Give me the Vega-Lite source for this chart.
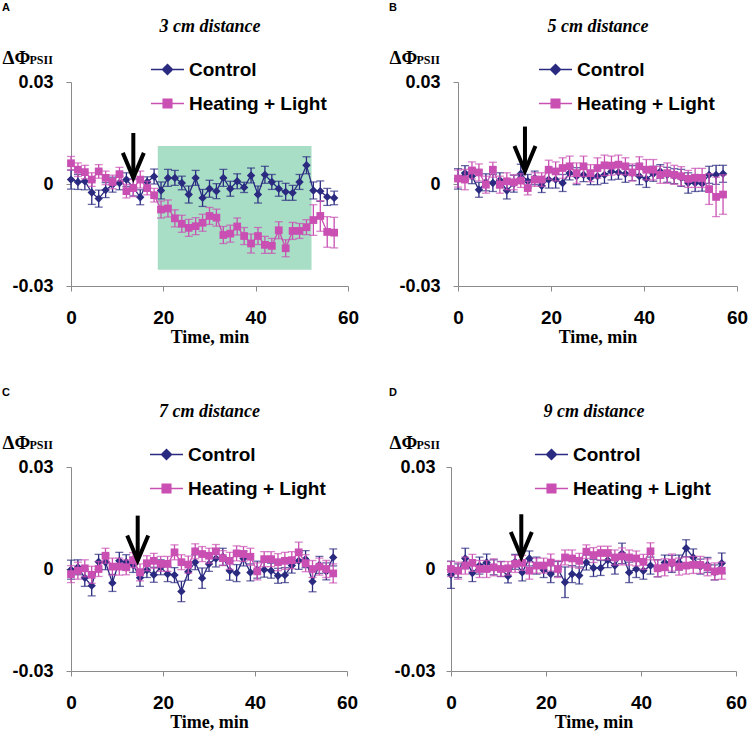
{
"$schema": "https://vega.github.io/schema/vega-lite/v6.json",
"padding": {"left": 2, "top": 2, "right": 0, "bottom": 0},
"background": "#ffffff",
"datasets": {
"A": [
{"s":"Control","t":0,"v":0.0013,"e":0.0028},{"s":"Control","t":1.5,"v":0.0006,"e":0.0022},{"s":"Control","t":3,"v":0.0008,"e":0.0025},{"s":"Control","t":4.5,"v":-0.0025,"e":0.0035},{"s":"Control","t":6,"v":-0.0043,"e":0.0025},{"s":"Control","t":7.5,"v":-0.0018,"e":0.0022},{"s":"Control","t":9,"v":-0.0002,"e":0.0022},{"s":"Control","t":10.5,"v":0.0003,"e":0.002},{"s":"Control","t":12,"v":0.0013,"e":0.002},{"s":"Control","t":13.5,"v":-0.001,"e":0.0025},{"s":"Control","t":15,"v":-0.0039,"e":0.0022},{"s":"Control","t":16.5,"v":0.0006,"e":0.0015},{"s":"Control","t":18,"v":0.0022,"e":0.0022},{"s":"Control","t":19.5,"v":-0.0019,"e":0.0025},{"s":"Control","t":21,"v":0.0018,"e":0.0025},{"s":"Control","t":22.5,"v":0.0018,"e":0.0022},{"s":"Control","t":24,"v":0.0003,"e":0.002},{"s":"Control","t":25.5,"v":-0.0031,"e":0.0025},{"s":"Control","t":27,"v":0.0018,"e":0.0022},{"s":"Control","t":28.5,"v":-0.0041,"e":0.0025},{"s":"Control","t":30,"v":-0.0014,"e":0.0025},{"s":"Control","t":31.5,"v":-0.0021,"e":0.0022},{"s":"Control","t":33,"v":0.0018,"e":0.0025},{"s":"Control","t":34.5,"v":-0.0014,"e":0.0022},{"s":"Control","t":36,"v":0.0008,"e":0.0022},{"s":"Control","t":37.5,"v":-0.001,"e":0.0015},{"s":"Control","t":39,"v":0.0025,"e":0.0022},{"s":"Control","t":40.5,"v":-0.0031,"e":0.0025},{"s":"Control","t":42,"v":0.0027,"e":0.0025},{"s":"Control","t":43.5,"v":0.0006,"e":0.0022},{"s":"Control","t":45,"v":-0.0014,"e":0.0022},{"s":"Control","t":46.5,"v":-0.0023,"e":0.0025},{"s":"Control","t":48,"v":-0.0026,"e":0.0022},{"s":"Control","t":49.5,"v":0.0006,"e":0.0022},{"s":"Control","t":51,"v":0.0055,"e":0.0025},{"s":"Control","t":52.5,"v":-0.0019,"e":0.0025},{"s":"Control","t":54,"v":-0.0021,"e":0.003},{"s":"Control","t":55.5,"v":-0.0038,"e":0.0025},{"s":"Control","t":57,"v":-0.0041,"e":0.002},
{"s":"Heating + Light","t":0,"v":0.0061,"e":0.002},{"s":"Heating + Light","t":1.5,"v":0.0042,"e":0.002},{"s":"Heating + Light","t":3,"v":0.0035,"e":0.002},{"s":"Heating + Light","t":4.5,"v":0.0013,"e":0.002},{"s":"Heating + Light","t":6,"v":0.0037,"e":0.002},{"s":"Heating + Light","t":7.5,"v":0.0018,"e":0.002},{"s":"Heating + Light","t":9,"v":0.0006,"e":0.002},{"s":"Heating + Light","t":10.5,"v":0.0029,"e":0.002},{"s":"Heating + Light","t":12,"v":-0.0021,"e":0.002},{"s":"Heating + Light","t":13.5,"v":-0.0012,"e":0.0025},{"s":"Heating + Light","t":15,"v":0.0013,"e":0.0025},{"s":"Heating + Light","t":16.5,"v":-0.0012,"e":0.002},{"s":"Heating + Light","t":18,"v":-0.0033,"e":0.002},{"s":"Heating + Light","t":19.5,"v":-0.0075,"e":0.0025},{"s":"Heating + Light","t":21,"v":-0.0072,"e":0.0025},{"s":"Heating + Light","t":22.5,"v":-0.0101,"e":0.0025},{"s":"Heating + Light","t":24,"v":-0.0117,"e":0.0025},{"s":"Heating + Light","t":25.5,"v":-0.0129,"e":0.0025},{"s":"Heating + Light","t":27,"v":-0.0124,"e":0.0025},{"s":"Heating + Light","t":28.5,"v":-0.0114,"e":0.0025},{"s":"Heating + Light","t":30,"v":-0.0094,"e":0.0025},{"s":"Heating + Light","t":31.5,"v":-0.0099,"e":0.0025},{"s":"Heating + Light","t":33,"v":-0.015,"e":0.0025},{"s":"Heating + Light","t":34.5,"v":-0.0146,"e":0.0025},{"s":"Heating + Light","t":36,"v":-0.0125,"e":0.0025},{"s":"Heating + Light","t":37.5,"v":-0.0153,"e":0.0025},{"s":"Heating + Light","t":39,"v":-0.0175,"e":0.0028},{"s":"Heating + Light","t":40.5,"v":-0.0153,"e":0.0025},{"s":"Heating + Light","t":42,"v":-0.0179,"e":0.0025},{"s":"Heating + Light","t":43.5,"v":-0.0182,"e":0.0022},{"s":"Heating + Light","t":45,"v":-0.0136,"e":0.0025},{"s":"Heating + Light","t":46.5,"v":-0.0189,"e":0.0025},{"s":"Heating + Light","t":48,"v":-0.0138,"e":0.0025},{"s":"Heating + Light","t":49.5,"v":-0.0138,"e":0.0022},{"s":"Heating + Light","t":51,"v":-0.0127,"e":0.0022},{"s":"Heating + Light","t":52.5,"v":-0.0106,"e":0.0045},{"s":"Heating + Light","t":54,"v":-0.0094,"e":0.0045},{"s":"Heating + Light","t":55.5,"v":-0.0141,"e":0.0045},{"s":"Heating + Light","t":57,"v":-0.0143,"e":0.0045}
],
"B": [
{"s":"Control","t":0,"v":0.0015,"e":0.003},{"s":"Control","t":1.5,"v":0.0032,"e":0.0022},{"s":"Control","t":3,"v":0.0023,"e":0.0022},{"s":"Control","t":4.5,"v":-0.0017,"e":0.0022},{"s":"Control","t":6,"v":0.0005,"e":0.0025},{"s":"Control","t":7.5,"v":0.0003,"e":0.0025},{"s":"Control","t":9,"v":0.0011,"e":0.0022},{"s":"Control","t":10.5,"v":-0.0019,"e":0.0025},{"s":"Control","t":12,"v":0.0001,"e":0.0025},{"s":"Control","t":13.5,"v":0.003,"e":0.0028},{"s":"Control","t":15,"v":0.0008,"e":0.002},{"s":"Control","t":16.5,"v":0.0018,"e":0.002},{"s":"Control","t":18,"v":-0.0005,"e":0.002},{"s":"Control","t":19.5,"v":0.0013,"e":0.0025},{"s":"Control","t":21,"v":0.0013,"e":0.0025},{"s":"Control","t":22.5,"v":0.0003,"e":0.0025},{"s":"Control","t":24,"v":0.0032,"e":0.002},{"s":"Control","t":25.5,"v":0.0023,"e":0.0025},{"s":"Control","t":27,"v":0.0027,"e":0.002},{"s":"Control","t":28.5,"v":0.0018,"e":0.002},{"s":"Control","t":30,"v":0.0023,"e":0.0025},{"s":"Control","t":31.5,"v":0.0027,"e":0.0025},{"s":"Control","t":33,"v":0.0037,"e":0.0025},{"s":"Control","t":34.5,"v":0.0034,"e":0.002},{"s":"Control","t":36,"v":0.003,"e":0.0025},{"s":"Control","t":37.5,"v":0.0032,"e":0.0022},{"s":"Control","t":39,"v":0.0023,"e":0.0025},{"s":"Control","t":40.5,"v":0.0015,"e":0.0025},{"s":"Control","t":42,"v":0.003,"e":0.0022},{"s":"Control","t":43.5,"v":0.0037,"e":0.002},{"s":"Control","t":45,"v":0.0027,"e":0.0022},{"s":"Control","t":46.5,"v":0.0023,"e":0.0022},{"s":"Control","t":48,"v":0.0018,"e":0.0025},{"s":"Control","t":49.5,"v":0.0003,"e":0.003},{"s":"Control","t":51,"v":0.0003,"e":0.0025},{"s":"Control","t":52.5,"v":0.0001,"e":0.0022},{"s":"Control","t":54,"v":0.0027,"e":0.0025},{"s":"Control","t":55.5,"v":0.0027,"e":0.0028},{"s":"Control","t":57,"v":0.003,"e":0.0025},
{"s":"Heating + Light","t":0,"v":0.0016,"e":0.0025},{"s":"Heating + Light","t":1.5,"v":0.0013,"e":0.003},{"s":"Heating + Light","t":3,"v":0.004,"e":0.0025},{"s":"Heating + Light","t":4.5,"v":0.0034,"e":0.0025},{"s":"Heating + Light","t":6,"v":-0.0002,"e":0.0025},{"s":"Heating + Light","t":7.5,"v":0.0042,"e":0.0022},{"s":"Heating + Light","t":9,"v":-0.0002,"e":0.0025},{"s":"Heating + Light","t":10.5,"v":0.0008,"e":0.0025},{"s":"Heating + Light","t":12,"v":0.0005,"e":0.0022},{"s":"Heating + Light","t":13.5,"v":0.001,"e":0.002},{"s":"Heating + Light","t":15,"v":-0.0012,"e":0.002},{"s":"Heating + Light","t":16.5,"v":0.0013,"e":0.002},{"s":"Heating + Light","t":18,"v":0.0013,"e":0.002},{"s":"Heating + Light","t":19.5,"v":0.0042,"e":0.0028},{"s":"Heating + Light","t":21,"v":0.0037,"e":0.0028},{"s":"Heating + Light","t":22.5,"v":0.0047,"e":0.003},{"s":"Heating + Light","t":24,"v":0.0052,"e":0.003},{"s":"Heating + Light","t":25.5,"v":0.0032,"e":0.003},{"s":"Heating + Light","t":27,"v":0.0052,"e":0.003},{"s":"Heating + Light","t":28.5,"v":0.0032,"e":0.0025},{"s":"Heating + Light","t":30,"v":0.0047,"e":0.003},{"s":"Heating + Light","t":31.5,"v":0.0055,"e":0.003},{"s":"Heating + Light","t":33,"v":0.0054,"e":0.0028},{"s":"Heating + Light","t":34.5,"v":0.0057,"e":0.0028},{"s":"Heating + Light","t":36,"v":0.0052,"e":0.0025},{"s":"Heating + Light","t":37.5,"v":0.0034,"e":0.0025},{"s":"Heating + Light","t":39,"v":0.0052,"e":0.0028},{"s":"Heating + Light","t":40.5,"v":0.0042,"e":0.003},{"s":"Heating + Light","t":42,"v":0.0042,"e":0.003},{"s":"Heating + Light","t":43.5,"v":0.0027,"e":0.0025},{"s":"Heating + Light","t":45,"v":0.0032,"e":0.003},{"s":"Heating + Light","t":46.5,"v":0.0027,"e":0.0028},{"s":"Heating + Light","t":48,"v":0.0023,"e":0.0028},{"s":"Heating + Light","t":49.5,"v":0.0015,"e":0.0025},{"s":"Heating + Light","t":51,"v":0.0018,"e":0.0028},{"s":"Heating + Light","t":52.5,"v":0.0018,"e":0.0028},{"s":"Heating + Light","t":54,"v":-0.0015,"e":0.0045},{"s":"Heating + Light","t":55.5,"v":-0.0038,"e":0.0058},{"s":"Heating + Light","t":57,"v":-0.0031,"e":0.0058}
],
"C": [
{"s":"Control","t":0,"v":-0.0002,"e":0.0028},{"s":"Control","t":1.5,"v":0.0005,"e":0.0022},{"s":"Control","t":3,"v":-0.0026,"e":0.0025},{"s":"Control","t":4.5,"v":-0.0049,"e":0.003},{"s":"Control","t":6,"v":0.0021,"e":0.0022},{"s":"Control","t":7.5,"v":0.002,"e":0.0022},{"s":"Control","t":9,"v":-0.0041,"e":0.0025},{"s":"Control","t":10.5,"v":0.0024,"e":0.0025},{"s":"Control","t":12,"v":0.002,"e":0.0022},{"s":"Control","t":13.5,"v":0.0012,"e":0.0022},{"s":"Control","t":15,"v":-0.0026,"e":0.0025},{"s":"Control","t":16.5,"v":-0.0003,"e":0.0022},{"s":"Control","t":18,"v":-0.0017,"e":0.0022},{"s":"Control","t":19.5,"v":0.0005,"e":0.0022},{"s":"Control","t":21,"v":-0.0015,"e":0.0022},{"s":"Control","t":22.5,"v":-0.0018,"e":0.0022},{"s":"Control","t":24,"v":-0.0066,"e":0.003},{"s":"Control","t":25.5,"v":-0.0008,"e":0.0025},{"s":"Control","t":27,"v":0.002,"e":0.0022},{"s":"Control","t":28.5,"v":-0.0027,"e":0.003},{"s":"Control","t":30,"v":0.0015,"e":0.0022},{"s":"Control","t":31.5,"v":0.0031,"e":0.0025},{"s":"Control","t":33,"v":0.0036,"e":0.0025},{"s":"Control","t":34.5,"v":-0.0005,"e":0.0028},{"s":"Control","t":36,"v":-0.0012,"e":0.0025},{"s":"Control","t":37.5,"v":0.0031,"e":0.0022},{"s":"Control","t":39,"v":-0.001,"e":0.0025},{"s":"Control","t":40.5,"v":-0.0002,"e":0.0025},{"s":"Control","t":42,"v":-0.0002,"e":0.0022},{"s":"Control","t":43.5,"v":-0.0005,"e":0.0022},{"s":"Control","t":45,"v":-0.002,"e":0.0022},{"s":"Control","t":46.5,"v":-0.0018,"e":0.0022},{"s":"Control","t":48,"v":0.001,"e":0.0022},{"s":"Control","t":49.5,"v":0.0024,"e":0.0025},{"s":"Control","t":51,"v":0.0029,"e":0.0025},{"s":"Control","t":52.5,"v":-0.0037,"e":0.003},{"s":"Control","t":54,"v":0.0012,"e":0.0025},{"s":"Control","t":55.5,"v":-0.0007,"e":0.0025},{"s":"Control","t":57,"v":0.0034,"e":0.0025},
{"s":"Heating + Light","t":0,"v":-0.0015,"e":0.0025},{"s":"Heating + Light","t":1.5,"v":-0.0005,"e":0.0025},{"s":"Heating + Light","t":3,"v":0.0002,"e":0.0025},{"s":"Heating + Light","t":4.5,"v":-0.0017,"e":0.0025},{"s":"Heating + Light","t":6,"v":0,"e":0.0022},{"s":"Heating + Light","t":7.5,"v":0.0039,"e":0.0022},{"s":"Heating + Light","t":9,"v":0.0007,"e":0.0025},{"s":"Heating + Light","t":10.5,"v":0.0007,"e":0.0025},{"s":"Heating + Light","t":12,"v":0.0005,"e":0.0022},{"s":"Heating + Light","t":13.5,"v":0.0026,"e":0.0022},{"s":"Heating + Light","t":15,"v":-0.001,"e":0.0025},{"s":"Heating + Light","t":16.5,"v":0.0017,"e":0.0022},{"s":"Heating + Light","t":18,"v":0.0024,"e":0.0022},{"s":"Heating + Light","t":19.5,"v":0.0015,"e":0.0022},{"s":"Heating + Light","t":21,"v":0.0015,"e":0.0022},{"s":"Heating + Light","t":22.5,"v":0.0049,"e":0.0022},{"s":"Heating + Light","t":24,"v":0.002,"e":0.0022},{"s":"Heating + Light","t":25.5,"v":0.0013,"e":0.0025},{"s":"Heating + Light","t":27,"v":0.0052,"e":0.0022},{"s":"Heating + Light","t":28.5,"v":0.0044,"e":0.0022},{"s":"Heating + Light","t":30,"v":0.0039,"e":0.0022},{"s":"Heating + Light","t":31.5,"v":0.0052,"e":0.002},{"s":"Heating + Light","t":33,"v":0.0032,"e":0.0022},{"s":"Heating + Light","t":34.5,"v":0.0024,"e":0.0025},{"s":"Heating + Light","t":36,"v":0.0046,"e":0.0022},{"s":"Heating + Light","t":37.5,"v":0.0044,"e":0.0022},{"s":"Heating + Light","t":39,"v":0.0036,"e":0.0025},{"s":"Heating + Light","t":40.5,"v":-0.0007,"e":0.0025},{"s":"Heating + Light","t":42,"v":0.0029,"e":0.0022},{"s":"Heating + Light","t":43.5,"v":0.0029,"e":0.0022},{"s":"Heating + Light","t":45,"v":0.002,"e":0.0025},{"s":"Heating + Light","t":46.5,"v":0.0024,"e":0.0025},{"s":"Heating + Light","t":48,"v":0.0026,"e":0.0025},{"s":"Heating + Light","t":49.5,"v":0.0049,"e":0.003},{"s":"Heating + Light","t":51,"v":0.0017,"e":0.0025},{"s":"Heating + Light","t":52.5,"v":0,"e":0.0025},{"s":"Heating + Light","t":54,"v":0.0007,"e":0.0025},{"s":"Heating + Light","t":55.5,"v":0,"e":0.0025},{"s":"Heating + Light","t":57,"v":-0.0013,"e":0.0028}
],
"D": [
{"s":"Control","t":0,"v":-0.0017,"e":0.004},{"s":"Control","t":1.5,"v":-0.0005,"e":0.002},{"s":"Control","t":3,"v":0.0031,"e":0.003},{"s":"Control","t":4.5,"v":-0.0012,"e":0.0025},{"s":"Control","t":6,"v":0.001,"e":0.0025},{"s":"Control","t":7.5,"v":0.0019,"e":0.0025},{"s":"Control","t":9,"v":0.0005,"e":0.0022},{"s":"Control","t":10.5,"v":0,"e":0.0022},{"s":"Control","t":12,"v":-0.0021,"e":0.002},{"s":"Control","t":13.5,"v":0.0021,"e":0.0022},{"s":"Control","t":15,"v":-0.001,"e":0.0025},{"s":"Control","t":16.5,"v":0.0031,"e":0.0022},{"s":"Control","t":18,"v":0.001,"e":0.0025},{"s":"Control","t":19.5,"v":-0.0003,"e":0.0022},{"s":"Control","t":21,"v":-0.0015,"e":0.0025},{"s":"Control","t":22.5,"v":0,"e":0.0022},{"s":"Control","t":24,"v":-0.0039,"e":0.0045},{"s":"Control","t":25.5,"v":-0.0015,"e":0.0025},{"s":"Control","t":27,"v":-0.0019,"e":0.0025},{"s":"Control","t":28.5,"v":0.0019,"e":0.0022},{"s":"Control","t":30,"v":0.0003,"e":0.0025},{"s":"Control","t":31.5,"v":0.0003,"e":0.0022},{"s":"Control","t":33,"v":0.0026,"e":0.0022},{"s":"Control","t":34.5,"v":0.001,"e":0.0025},{"s":"Control","t":36,"v":0.0046,"e":0.003},{"s":"Control","t":37.5,"v":-0.001,"e":0.003},{"s":"Control","t":39,"v":0,"e":0.0025},{"s":"Control","t":40.5,"v":-0.0005,"e":0.0025},{"s":"Control","t":42,"v":0.001,"e":0.0025},{"s":"Control","t":43.5,"v":0.0002,"e":0.0025},{"s":"Control","t":45,"v":0.0019,"e":0.0022},{"s":"Control","t":46.5,"v":0.0015,"e":0.0025},{"s":"Control","t":48,"v":0.0019,"e":0.0022},{"s":"Control","t":49.5,"v":0.0061,"e":0.0025},{"s":"Control","t":51,"v":0.0034,"e":0.0025},{"s":"Control","t":52.5,"v":0.0007,"e":0.0022},{"s":"Control","t":54,"v":0.0012,"e":0.0022},{"s":"Control","t":55.5,"v":-0.001,"e":0.0022},{"s":"Control","t":57,"v":0.0017,"e":0.003},
{"s":"Heating + Light","t":0,"v":0,"e":0.0022},{"s":"Heating + Light","t":1.5,"v":-0.0005,"e":0.0025},{"s":"Heating + Light","t":3,"v":0.001,"e":0.0025},{"s":"Heating + Light","t":4.5,"v":0.0018,"e":0.0025},{"s":"Heating + Light","t":6,"v":0,"e":0.0025},{"s":"Heating + Light","t":7.5,"v":0,"e":0.0025},{"s":"Heating + Light","t":9,"v":0.0005,"e":0.0025},{"s":"Heating + Light","t":10.5,"v":0,"e":0.0022},{"s":"Heating + Light","t":12,"v":0.0002,"e":0.002},{"s":"Heating + Light","t":13.5,"v":0.0015,"e":0.0025},{"s":"Heating + Light","t":15,"v":0.0018,"e":0.0022},{"s":"Heating + Light","t":16.5,"v":-0.0005,"e":0.0025},{"s":"Heating + Light","t":18,"v":0.001,"e":0.0022},{"s":"Heating + Light","t":19.5,"v":0.001,"e":0.0022},{"s":"Heating + Light","t":21,"v":0.0019,"e":0.0025},{"s":"Heating + Light","t":22.5,"v":0,"e":0.0025},{"s":"Heating + Light","t":24,"v":0.0034,"e":0.0022},{"s":"Heating + Light","t":25.5,"v":0.0031,"e":0.0025},{"s":"Heating + Light","t":27,"v":0.0024,"e":0.0022},{"s":"Heating + Light","t":28.5,"v":0.0051,"e":0.002},{"s":"Heating + Light","t":30,"v":0.0041,"e":0.0022},{"s":"Heating + Light","t":31.5,"v":0.0047,"e":0.002},{"s":"Heating + Light","t":33,"v":0.0047,"e":0.002},{"s":"Heating + Light","t":34.5,"v":0.0034,"e":0.0022},{"s":"Heating + Light","t":36,"v":0.0037,"e":0.0025},{"s":"Heating + Light","t":37.5,"v":0.0034,"e":0.0022},{"s":"Heating + Light","t":39,"v":0.0031,"e":0.0022},{"s":"Heating + Light","t":40.5,"v":0.0021,"e":0.0022},{"s":"Heating + Light","t":42,"v":0.0052,"e":0.0025},{"s":"Heating + Light","t":43.5,"v":0.0002,"e":0.0025},{"s":"Heating + Light","t":45,"v":0.0005,"e":0.0025},{"s":"Heating + Light","t":46.5,"v":0.0019,"e":0.0025},{"s":"Heating + Light","t":48,"v":0.0007,"e":0.0025},{"s":"Heating + Light","t":49.5,"v":0.001,"e":0.0025},{"s":"Heating + Light","t":51,"v":0.0012,"e":0.0025},{"s":"Heating + Light","t":52.5,"v":0.0012,"e":0.0025},{"s":"Heating + Light","t":54,"v":0.0005,"e":0.0025},{"s":"Heating + Light","t":55.5,"v":-0.0007,"e":0.0025},{"s":"Heating + Light","t":57,"v":-0.0005,"e":0.0025}
]
},
"spacing": 41,
"resolve": {"scale": {"color": "independent"}, "legend": {"color": "independent"}},
"vconcat": [
{"hconcat": [
{
"title": {"text": "A"},
"width": 277, "height": 204,
"resolve": {"axis": {"x": "independent", "y": "independent"}},
"layer": [
{"data": {"values": [{"t1": 18.8, "t2": 52.1, "y1": 0.0112, "y2": -0.0252}]},
 "mark": {"type": "rect", "color": "#a8dec5"},
 "encoding": {"x": {"field": "t1", "type": "quantitative", "scale": {"domain": [0, 60], "nice": false}, "axis": null}, "x2": {"field": "t2"},
  "y": {"field": "y1", "type": "quantitative", "scale": {"domain": [-0.03, 0.03], "nice": false, "zero": false}, "axis": null}, "y2": {"field": "y2"}}},
{"data": {"name": "A"},
 "encoding": {
  "x": {"field": "t", "type": "quantitative", "scale": {"domain": [0, 60], "nice": false}, "axis": {"values": [0, 20, 40, 60], "title": "Time, min", "labelFlush": false, "labelPadding": 17, "titlePadding": 1}},
  "y": {"field": "v", "type": "quantitative", "scale": {"domain": [-0.03, 0.03], "nice": false, "zero": false}, "axis": {"values": [-0.03, 0, 0.03], "labelExpr": "datum.value > 0.001 ? '0.03' : (datum.value < -0.001 ? '-0.03' : '0')", "labelPadding": 13, "labelFontSize": 18, "title": "ΔΦ", "titleAngle": 0, "titleAlign": "left", "titleBaseline": "alphabetic", "titleX": -69, "titleY": -19, "titleFontSize": 19}},
  "color": {"field": "s", "type": "nominal", "scale": {"domain": ["Control", "Heating + Light"], "range": ["#2a2a80", "#c94fb3"]},
   "legend": {"orient": "none", "legendX": 79, "legendY": -30, "title": null,
    "encoding": {"symbols": {
     "shape": {"condition": {"test": "datum.value === 'Control'", "value": "M-1,0H1M0,-0.3L0.3,0L0,0.3L-0.3,0Z"}, "value": "M-1,0H1M-0.26,-0.26H0.26V0.26H-0.26Z"},
     "fill": {"condition": {"test": "datum.value === 'Control'", "value": "#2a2a80"}, "value": "#c94fb3"},
     "stroke": {"condition": {"test": "datum.value === 'Control'", "value": "#2a2a80"}, "value": "#c94fb3"},
     "strokeWidth": {"value": 1.5}, "opacity": {"value": 1}}}}}
 },
 "layer": [
  {"transform": [{"filter": "datum.s === 'Control'"}], "mark": {"type": "errorbar", "ticks": true, "size": 8, "thickness": 1.3}, "encoding": {"yError": {"field": "e"}}},
  {"transform": [{"filter": "datum.s === 'Control'"}], "mark": {"type": "line", "strokeWidth": 1.3}, "encoding": {}},
  {"transform": [{"filter": "datum.s === 'Control'"}], "mark": {"type": "point", "shape": "diamond", "filled": true, "size": 70, "opacity": 1}, "encoding": {}},
  {"transform": [{"filter": "datum.s === 'Heating + Light'"}], "mark": {"type": "errorbar", "ticks": true, "size": 8, "thickness": 1.3}, "encoding": {"yError": {"field": "e"}}},
  {"transform": [{"filter": "datum.s === 'Heating + Light'"}], "mark": {"type": "line", "strokeWidth": 1.3}, "encoding": {}},
  {"transform": [{"filter": "datum.s === 'Heating + Light'"}], "mark": {"type": "point", "shape": "square", "filled": true, "size": 60, "opacity": 1}, "encoding": {}}
 ]},
{"data": {"values": [{"t": 13.5, "top": 0.015, "tip": 0.0018}]},
 "mark": {"type": "rule", "strokeWidth": 4, "color": "#000000"},
 "encoding": {
  "x": {"field": "t", "type": "quantitative", "scale": {"domain": [0, 60], "nice": false}, "axis": {"orient": "top", "domain": false, "ticks": false, "labels": false, "title": "3 cm distance", "titleFontStyle": "italic", "titleFontSize": 18, "titleY": -51, "titleBaseline": "alphabetic"}},
  "y": {"field": "top", "type": "quantitative", "scale": {"domain": [-0.03, 0.03], "nice": false, "zero": false}, "axis": {"orient": "right", "domain": false, "ticks": false, "labels": false, "title": "PSII", "titleAngle": 0, "titleAlign": "left", "titleBaseline": "alphabetic", "titleX": -319, "titleY": -19, "titleFontSize": 12}},
  "y2": {"field": "tip"}}},
{"data": {"values": [{"t": 13.5, "top": 0.015, "tip": 0.0018}]},
 "mark": {"type": "point", "shape": "M-0.42,-1L0,0L0.42,-1", "size": 2500, "filled": false, "stroke": "#000000", "strokeWidth": 4, "opacity": 1, "strokeJoin": "miter"},
 "encoding": {"x": {"field": "t", "type": "quantitative", "scale": {"domain": [0, 60], "nice": false}, "axis": null}, "y": {"field": "tip", "type": "quantitative", "scale": {"domain": [-0.03, 0.03], "nice": false, "zero": false}, "axis": null}}}
]
},
{
"title": {"text": "B"},
"width": 279, "height": 204,
"resolve": {"axis": {"x": "independent", "y": "independent"}},
"layer": [
{"data": {"name": "B"},
 "encoding": {
  "x": {"field": "t", "type": "quantitative", "scale": {"domain": [0, 60], "nice": false}, "axis": {"values": [0, 20, 40, 60], "title": "Time, min", "labelFlush": false, "labelPadding": 17, "titlePadding": 1}},
  "y": {"field": "v", "type": "quantitative", "scale": {"domain": [-0.03, 0.03], "nice": false, "zero": false}, "axis": {"values": [-0.03, 0, 0.03], "labelExpr": "datum.value > 0.001 ? '0.03' : (datum.value < -0.001 ? '-0.03' : '0')", "labelPadding": 13, "labelFontSize": 18, "title": "ΔΦ", "titleAngle": 0, "titleAlign": "left", "titleBaseline": "alphabetic", "titleX": -69, "titleY": -19, "titleFontSize": 19}},
  "color": {"field": "s", "type": "nominal", "scale": {"domain": ["Control", "Heating + Light"], "range": ["#2a2a80", "#c94fb3"]},
   "legend": {"orient": "none", "legendX": 80, "legendY": -30, "title": null,
    "encoding": {"symbols": {
     "shape": {"condition": {"test": "datum.value === 'Control'", "value": "M-1,0H1M0,-0.3L0.3,0L0,0.3L-0.3,0Z"}, "value": "M-1,0H1M-0.26,-0.26H0.26V0.26H-0.26Z"},
     "fill": {"condition": {"test": "datum.value === 'Control'", "value": "#2a2a80"}, "value": "#c94fb3"},
     "stroke": {"condition": {"test": "datum.value === 'Control'", "value": "#2a2a80"}, "value": "#c94fb3"},
     "strokeWidth": {"value": 1.5}, "opacity": {"value": 1}}}}}
 },
 "layer": [
  {"transform": [{"filter": "datum.s === 'Control'"}], "mark": {"type": "errorbar", "ticks": true, "size": 8, "thickness": 1.3}, "encoding": {"yError": {"field": "e"}}},
  {"transform": [{"filter": "datum.s === 'Control'"}], "mark": {"type": "line", "strokeWidth": 1.3}, "encoding": {}},
  {"transform": [{"filter": "datum.s === 'Control'"}], "mark": {"type": "point", "shape": "diamond", "filled": true, "size": 70, "opacity": 1}, "encoding": {}},
  {"transform": [{"filter": "datum.s === 'Heating + Light'"}], "mark": {"type": "errorbar", "ticks": true, "size": 8, "thickness": 1.3}, "encoding": {"yError": {"field": "e"}}},
  {"transform": [{"filter": "datum.s === 'Heating + Light'"}], "mark": {"type": "line", "strokeWidth": 1.3}, "encoding": {}},
  {"transform": [{"filter": "datum.s === 'Heating + Light'"}], "mark": {"type": "point", "shape": "square", "filled": true, "size": 60, "opacity": 1}, "encoding": {}}
 ]},
{"data": {"values": [{"t": 14.4, "top": 0.0169, "tip": 0.0038}]},
 "mark": {"type": "rule", "strokeWidth": 4, "color": "#000000"},
 "encoding": {
  "x": {"field": "t", "type": "quantitative", "scale": {"domain": [0, 60], "nice": false}, "axis": {"orient": "top", "domain": false, "ticks": false, "labels": false, "title": "5 cm distance", "titleFontStyle": "italic", "titleFontSize": 18, "titleY": -51, "titleBaseline": "alphabetic"}},
  "y": {"field": "top", "type": "quantitative", "scale": {"domain": [-0.03, 0.03], "nice": false, "zero": false}, "axis": {"orient": "right", "domain": false, "ticks": false, "labels": false, "title": "PSII", "titleAngle": 0, "titleAlign": "left", "titleBaseline": "alphabetic", "titleX": -321, "titleY": -19, "titleFontSize": 12}},
  "y2": {"field": "tip"}}},
{"data": {"values": [{"t": 14.4, "top": 0.0169, "tip": 0.0038}]},
 "mark": {"type": "point", "shape": "M-0.42,-1L0,0L0.42,-1", "size": 2500, "filled": false, "stroke": "#000000", "strokeWidth": 4, "opacity": 1, "strokeJoin": "miter"},
 "encoding": {"x": {"field": "t", "type": "quantitative", "scale": {"domain": [0, 60], "nice": false}, "axis": null}, "y": {"field": "tip", "type": "quantitative", "scale": {"domain": [-0.03, 0.03], "nice": false, "zero": false}, "axis": null}}}
]
}
], "spacing": 30, "resolve": {"scale": {"color": "independent"}, "legend": {"color": "independent"}}},
{"hconcat": [
{
"title": {"text": "C"},
"width": 276, "height": 204,
"resolve": {"axis": {"x": "independent", "y": "independent"}},
"layer": [
{"data": {"name": "C"},
 "encoding": {
  "x": {"field": "t", "type": "quantitative", "scale": {"domain": [0, 60], "nice": false}, "axis": {"values": [0, 20, 40, 60], "title": "Time, min", "labelFlush": false, "labelPadding": 17, "titlePadding": 1}},
  "y": {"field": "v", "type": "quantitative", "scale": {"domain": [-0.03, 0.03], "nice": false, "zero": false}, "axis": {"values": [-0.03, 0, 0.03], "labelExpr": "datum.value > 0.001 ? '0.03' : (datum.value < -0.001 ? '-0.03' : '0')", "labelPadding": 13, "labelFontSize": 18, "title": "ΔΦ", "titleAngle": 0, "titleAlign": "left", "titleBaseline": "alphabetic", "titleX": -69, "titleY": -19, "titleFontSize": 19}},
  "color": {"field": "s", "type": "nominal", "scale": {"domain": ["Control", "Heating + Light"], "range": ["#2a2a80", "#c94fb3"]},
   "legend": {"orient": "none", "legendX": 78, "legendY": -30, "title": null,
    "encoding": {"symbols": {
     "shape": {"condition": {"test": "datum.value === 'Control'", "value": "M-1,0H1M0,-0.3L0.3,0L0,0.3L-0.3,0Z"}, "value": "M-1,0H1M-0.26,-0.26H0.26V0.26H-0.26Z"},
     "fill": {"condition": {"test": "datum.value === 'Control'", "value": "#2a2a80"}, "value": "#c94fb3"},
     "stroke": {"condition": {"test": "datum.value === 'Control'", "value": "#2a2a80"}, "value": "#c94fb3"},
     "strokeWidth": {"value": 1.5}, "opacity": {"value": 1}}}}}
 },
 "layer": [
  {"transform": [{"filter": "datum.s === 'Control'"}], "mark": {"type": "errorbar", "ticks": true, "size": 8, "thickness": 1.3}, "encoding": {"yError": {"field": "e"}}},
  {"transform": [{"filter": "datum.s === 'Control'"}], "mark": {"type": "line", "strokeWidth": 1.3}, "encoding": {}},
  {"transform": [{"filter": "datum.s === 'Control'"}], "mark": {"type": "point", "shape": "diamond", "filled": true, "size": 70, "opacity": 1}, "encoding": {}},
  {"transform": [{"filter": "datum.s === 'Heating + Light'"}], "mark": {"type": "errorbar", "ticks": true, "size": 8, "thickness": 1.3}, "encoding": {"yError": {"field": "e"}}},
  {"transform": [{"filter": "datum.s === 'Heating + Light'"}], "mark": {"type": "line", "strokeWidth": 1.3}, "encoding": {}},
  {"transform": [{"filter": "datum.s === 'Heating + Light'"}], "mark": {"type": "point", "shape": "square", "filled": true, "size": 60, "opacity": 1}, "encoding": {}}
 ]},
{"data": {"values": [{"t": 14.5, "top": 0.0157, "tip": 0.0025}]},
 "mark": {"type": "rule", "strokeWidth": 4, "color": "#000000"},
 "encoding": {
  "x": {"field": "t", "type": "quantitative", "scale": {"domain": [0, 60], "nice": false}, "axis": {"orient": "top", "domain": false, "ticks": false, "labels": false, "title": "7 cm distance", "titleFontStyle": "italic", "titleFontSize": 18, "titleY": -51, "titleBaseline": "alphabetic"}},
  "y": {"field": "top", "type": "quantitative", "scale": {"domain": [-0.03, 0.03], "nice": false, "zero": false}, "axis": {"orient": "right", "domain": false, "ticks": false, "labels": false, "title": "PSII", "titleAngle": 0, "titleAlign": "left", "titleBaseline": "alphabetic", "titleX": -318, "titleY": -19, "titleFontSize": 12}},
  "y2": {"field": "tip"}}},
{"data": {"values": [{"t": 14.5, "top": 0.0157, "tip": 0.0025}]},
 "mark": {"type": "point", "shape": "M-0.42,-1L0,0L0.42,-1", "size": 2500, "filled": false, "stroke": "#000000", "strokeWidth": 4, "opacity": 1, "strokeJoin": "miter"},
 "encoding": {"x": {"field": "t", "type": "quantitative", "scale": {"domain": [0, 60], "nice": false}, "axis": null}, "y": {"field": "tip", "type": "quantitative", "scale": {"domain": [-0.03, 0.03], "nice": false, "zero": false}, "axis": null}}}
]
},
{
"title": {"text": "D"},
"width": 285, "height": 204,
"resolve": {"axis": {"x": "independent", "y": "independent"}},
"layer": [
{"data": {"name": "D"},
 "encoding": {
  "x": {"field": "t", "type": "quantitative", "scale": {"domain": [0, 60], "nice": false}, "axis": {"values": [0, 20, 40, 60], "title": "Time, min", "labelFlush": false, "labelPadding": 17, "titlePadding": 1}},
  "y": {"field": "v", "type": "quantitative", "scale": {"domain": [-0.03, 0.03], "nice": false, "zero": false}, "axis": {"values": [-0.03, 0, 0.03], "labelExpr": "datum.value > 0.001 ? '0.03' : (datum.value < -0.001 ? '-0.03' : '0')", "labelPadding": 11, "labelFontSize": 18, "title": "ΔΦ", "titleAngle": 0, "titleAlign": "left", "titleBaseline": "alphabetic", "titleX": -62, "titleY": -19, "titleFontSize": 19}},
  "color": {"field": "s", "type": "nominal", "scale": {"domain": ["Control", "Heating + Light"], "range": ["#2a2a80", "#c94fb3"]},
   "legend": {"orient": "none", "legendX": 83, "legendY": -30, "title": null,
    "encoding": {"symbols": {
     "shape": {"condition": {"test": "datum.value === 'Control'", "value": "M-1,0H1M0,-0.3L0.3,0L0,0.3L-0.3,0Z"}, "value": "M-1,0H1M-0.26,-0.26H0.26V0.26H-0.26Z"},
     "fill": {"condition": {"test": "datum.value === 'Control'", "value": "#2a2a80"}, "value": "#c94fb3"},
     "stroke": {"condition": {"test": "datum.value === 'Control'", "value": "#2a2a80"}, "value": "#c94fb3"},
     "strokeWidth": {"value": 1.5}, "opacity": {"value": 1}}}}}
 },
 "layer": [
  {"transform": [{"filter": "datum.s === 'Control'"}], "mark": {"type": "errorbar", "ticks": true, "size": 8, "thickness": 1.3}, "encoding": {"yError": {"field": "e"}}},
  {"transform": [{"filter": "datum.s === 'Control'"}], "mark": {"type": "line", "strokeWidth": 1.3}, "encoding": {}},
  {"transform": [{"filter": "datum.s === 'Control'"}], "mark": {"type": "point", "shape": "diamond", "filled": true, "size": 70, "opacity": 1}, "encoding": {}},
  {"transform": [{"filter": "datum.s === 'Heating + Light'"}], "mark": {"type": "errorbar", "ticks": true, "size": 8, "thickness": 1.3}, "encoding": {"yError": {"field": "e"}}},
  {"transform": [{"filter": "datum.s === 'Heating + Light'"}], "mark": {"type": "line", "strokeWidth": 1.3}, "encoding": {}},
  {"transform": [{"filter": "datum.s === 'Heating + Light'"}], "mark": {"type": "point", "shape": "square", "filled": true, "size": 60, "opacity": 1}, "encoding": {}}
 ]},
{"data": {"values": [{"t": 14.8, "top": 0.0161, "tip": 0.0035}]},
 "mark": {"type": "rule", "strokeWidth": 4, "color": "#000000"},
 "encoding": {
  "x": {"field": "t", "type": "quantitative", "scale": {"domain": [0, 60], "nice": false}, "axis": {"orient": "top", "domain": false, "ticks": false, "labels": false, "title": "9 cm distance", "titleFontStyle": "italic", "titleFontSize": 18, "titleY": -51, "titleBaseline": "alphabetic"}},
  "y": {"field": "top", "type": "quantitative", "scale": {"domain": [-0.03, 0.03], "nice": false, "zero": false}, "axis": {"orient": "right", "domain": false, "ticks": false, "labels": false, "title": "PSII", "titleAngle": 0, "titleAlign": "left", "titleBaseline": "alphabetic", "titleX": -320, "titleY": -19, "titleFontSize": 12}},
  "y2": {"field": "tip"}}},
{"data": {"values": [{"t": 14.8, "top": 0.0161, "tip": 0.0035}]},
 "mark": {"type": "point", "shape": "M-0.42,-1L0,0L0.42,-1", "size": 2500, "filled": false, "stroke": "#000000", "strokeWidth": 4, "opacity": 1, "strokeJoin": "miter"},
 "encoding": {"x": {"field": "t", "type": "quantitative", "scale": {"domain": [0, 60], "nice": false}, "axis": null}, "y": {"field": "tip", "type": "quantitative", "scale": {"domain": [-0.03, 0.03], "nice": false, "zero": false}, "axis": null}}}
]
}
], "spacing": 31, "resolve": {"scale": {"color": "independent"}, "legend": {"color": "independent"}}}
],
"config": {
 "view": {"stroke": null},
 "axis": {"grid": false, "domainColor": "#8a8a8a", "tickColor": "#8a8a8a", "tickSize": 5, "labelFont": "Liberation Sans", "labelFontSize": 19, "labelFontWeight": "bold", "labelColor": "#000000", "titleFont": "Liberation Serif", "titleFontWeight": "bold", "titleColor": "#000000", "titleFontSize": 18},
 "legend": {"padding": 0, "symbolSize": 1089, "symbolStrokeWidth": 1.5, "labelFont": "Liberation Sans", "labelFontSize": 19, "labelFontWeight": "bold", "labelColor": "#000000", "labelOffset": 4, "rowPadding": 6, "symbolOpacity": 1},
 "title": {"font": "Liberation Sans", "fontSize": 11, "fontWeight": "bold", "anchor": "start", "frame": "bounds", "color": "#000000", "offset": 4}
}
}
